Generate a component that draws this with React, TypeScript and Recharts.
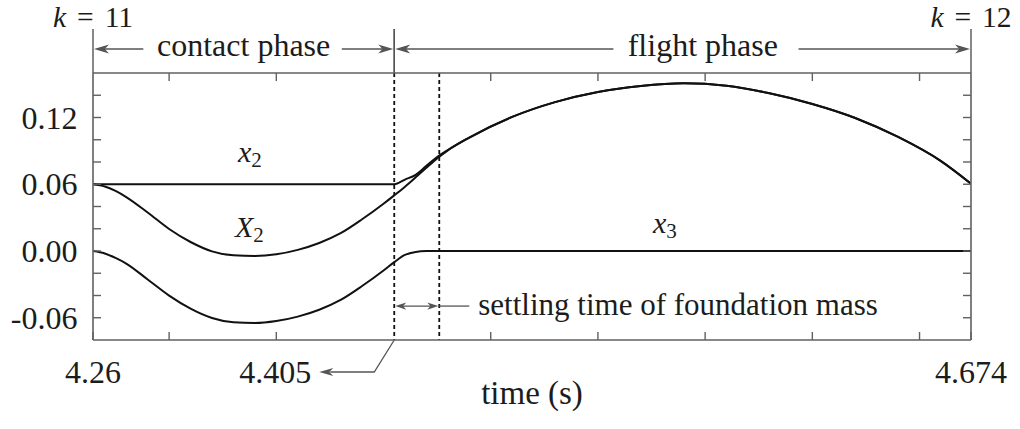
import React from 'react';
import {
  LineChart,
  Line,
  XAxis,
  YAxis,
  ReferenceLine,
  ReferenceArea,
  ReferenceDot,
} from 'recharts';

// Sample times (s) over one hop: contact phase, then flight phase
const time = [
  4.2645, 4.27, 4.275, 4.28, 4.29, 4.3, 4.31, 4.32, 4.33, 4.34, 4.35, 4.36, 4.37,
  4.38, 4.39, 4.4, 4.405, 4.41, 4.415, 4.42, 4.425, 4.43, 4.44, 4.46, 4.48, 4.5,
  4.52, 4.54, 4.56, 4.58, 4.6, 4.62, 4.64, 4.66, 4.674,
];

// Upper mass position x2
const x2 = [
  0.06, 0.06, 0.06, 0.06, 0.06, 0.06, 0.06, 0.06, 0.06, 0.06, 0.06, 0.06, 0.06,
  0.06, 0.06, 0.06, 0.06, 0.0642, 0.0685, 0.0765, 0.0845, 0.0908, 0.102, 0.1205,
  0.1338, 0.1429, 0.1483, 0.1507, 0.1485, 0.1418, 0.1322, 0.1196, 0.1025, 0.0808,
  0.0605,
];

// Spring reference position X2
const X2 = [
  0.06, 0.058, 0.054, 0.0485, 0.0346, 0.0198, 0.0081, -0.0003, -0.0039, -0.0045,
  -0.003, 0.001, 0.0072, 0.016, 0.0285, 0.0425, 0.05, 0.0578, 0.0662, 0.0748,
  0.0832, 0.0905, 0.102, 0.1205, 0.1338, 0.1429, 0.1483, 0.1507, 0.1485, 0.1418,
  0.1322, 0.1196, 0.1025, 0.0808, 0.0605,
];

// Foundation mass position x3
const x3 = [
  0.0, -0.0022, -0.0062, -0.0113, -0.0256, -0.0401, -0.0518, -0.0602, -0.0641,
  -0.0648, -0.063, -0.059, -0.0528, -0.044, -0.0315, -0.0175, -0.01, -0.0035,
  -0.0008, -0.0001, 0.0, 0.0, 0.0, 0.0, 0.0, 0.0, 0.0, 0.0, 0.0, 0.0, 0.0, 0.0,
  0.0, 0.0, 0.0,
];

// Event times
const hopStart = 4.2645; // k = 11
const liftOff = 4.405;
const settled = 4.426;
const hopEnd = 4.674; // k = 12

const xDomain = [hopStart, hopEnd];
const yDomain = [-0.08, 0.16];
const xTicks = [hopStart, 4.3, 4.35, 4.45, 4.5, 4.55, 4.6, 4.65, hopEnd];
const xTickLabels: [number, string][] = [
  [hopStart, '4.26'],
  [hopEnd, '4.674'],
];
const yTicks = [-0.06, -0.04, -0.02, 0, 0.02, 0.04, 0.06, 0.08, 0.1, 0.12, 0.14];
const yTickLabels = [-0.06, 0, 0.06, 0.12];

const data = time.map((t, i) => ({ t, x2: x2[i], X2: X2[i], x3: x3[i] }));

const SERIF = '"Liberation Serif", "DejaVu Serif", serif';
const FRAME = '#606060';
const INK = '#1c1c1c';
const ANNO = '#555555';
const TICK = 8;

const near = (a: number, b: number) => Math.abs(a - b) < 1e-6;

// Filled arrowhead with a notched back; dir = 1 points right, -1 points left
const arrowHead = (tx: number, ty: number, dir: number, len = 15, half = 4.5) => {
  const b = tx - dir * len;
  const n = tx - dir * len * 0.72;
  return `M${tx},${ty} L${b},${ty - half} L${n},${ty} L${b},${ty + half} Z`;
};

const BottomTick = (props: any) => {
  const { x, y, payload } = props;
  const lab = xTickLabels.find(([v]) => near(v, payload.value));
  return (
    <g>
      <line x1={x} y1={y} x2={x} y2={y - TICK} stroke={FRAME} strokeWidth={1.4} />
      {lab && (
        <text x={x} y={y + 43} textAnchor="middle" fontSize={32} fontFamily={SERIF} fill={INK}>
          {lab[1]}
        </text>
      )}
    </g>
  );
};

const TopTick = (props: any) => {
  const { x, y } = props;
  return <line x1={x} y1={y} x2={x} y2={y + TICK} stroke={FRAME} strokeWidth={1.4} />;
};

const LeftTick = (props: any) => {
  const { x, y, payload } = props;
  const v = payload.value as number;
  const labelled = yTickLabels.some((l) => near(l, v));
  return (
    <g>
      <line x1={x} y1={y} x2={x + TICK} y2={y} stroke={FRAME} strokeWidth={1.4} />
      {labelled && (
        <text
          x={x - 15.5}
          y={y}
          dy="0.35em"
          textAnchor="end"
          fontSize={32}
          fontFamily={SERIF}
          fill={INK}
        >
          {v.toFixed(2)}
        </text>
      )}
    </g>
  );
};

const RightTick = (props: any) => {
  const { x, y } = props;
  return <line x1={x} y1={y} x2={x - TICK} y2={y} stroke={FRAME} strokeWidth={1.4} />;
};

const StepTag = ({ x, y, k }: { x: number; y: number; k: string }) => (
  <text x={x} y={y} textAnchor="middle" fontSize={29.5} fontFamily={SERIF} fill={INK}>
    <tspan fontStyle="italic">k</tspan>
    <tspan dx={11}>=</tspan>
    <tspan dx={11}>{k}</tspan>
  </text>
);

// Phase bracket drawn above a reference area: |<-- label -->|
const PhaseBracket = (props: any) => {
  const { x, y, width, text, leftEnd, textMid, rightStart, leftTag, rightTag } = props;
  const ay = y - 24;
  const x0 = x;
  const x1 = x + width;
  return (
    <g>
      <line x1={x0} y1={y - 44} x2={x0} y2={y} stroke={ANNO} strokeWidth={1.4} />
      <line x1={x1} y1={y - 44} x2={x1} y2={y} stroke={ANNO} strokeWidth={1.4} />
      <line x1={x0 + 4} y1={ay} x2={x0 + width * leftEnd} y2={ay} stroke={ANNO} strokeWidth={1.4} />
      <path d={arrowHead(x0 + 1, ay, -1)} fill={ANNO} />
      <line x1={x0 + width * rightStart} y1={ay} x2={x1 - 4} y2={ay} stroke={ANNO} strokeWidth={1.4} />
      <path d={arrowHead(x1 - 1, ay, 1)} fill={ANNO} />
      <text
        x={x0 + width * textMid}
        y={ay + 7}
        textAnchor="middle"
        fontSize={32}
        fontFamily={SERIF}
        fill={INK}
      >
        {text}
      </text>
      {leftTag && <StepTag x={x0} y={y - 46.5} k={leftTag} />}
      {rightTag && <StepTag x={x1} y={y - 46.5} k={rightTag} />}
    </g>
  );
};

// Lift-off marker: dashed line plus the callout to its time label
const LiftOffLine = (props: any) => {
  const { x1, y1, y2 } = props;
  const top = Math.min(y1, y2);
  const bottom = Math.max(y1, y2);
  const hy = bottom + 32;
  return (
    <g>
      <line x1={x1} y1={top} x2={x1} y2={bottom} stroke="#111" strokeWidth={1.8} strokeDasharray="4 3" />
      <polyline
        points={`${x1},${bottom} ${x1 - 20},${hy} ${x1 - 64},${hy}`}
        fill="none"
        stroke={ANNO}
        strokeWidth={1.3}
      />
      <path d={arrowHead(x1 - 75, hy, -1, 14, 4)} fill={ANNO} />
      <text x={x1 - 83} y={hy} dy="0.35em" textAnchor="end" fontSize={32} fontFamily={SERIF} fill={INK}>
        {liftOff}
      </text>
    </g>
  );
};

const SettleLine = (props: any) => {
  const { x1, y1, y2 } = props;
  return (
    <line
      x1={x1}
      y1={Math.min(y1, y2)}
      x2={x1}
      y2={Math.max(y1, y2)}
      stroke="#111"
      strokeWidth={1.8}
      strokeDasharray="4 3"
    />
  );
};

// Double arrow spanning the settling interval, with its caption
const SettleSpan = (props: any) => {
  const { x1, y1, x2 } = props;
  return (
    <g>
      <line x1={x1 + 4} y1={y1} x2={x2 - 4} y2={y1} stroke={ANNO} strokeWidth={1.3} />
      <path d={arrowHead(x1 + 1, y1, -1, 11, 3.6)} fill={ANNO} />
      <path d={arrowHead(x2 - 1, y1, 1, 11, 3.6)} fill={ANNO} />
      <line x1={x2} y1={y1} x2={x2 + 30} y2={y1} stroke={ANNO} strokeWidth={1.3} />
      <text x={x2 + 39} y={y1 + 9} fontSize={31} fontFamily={SERIF} fill={INK}>
        settling time of foundation mass
      </text>
    </g>
  );
};

const SeriesTag = ({ cx, cy, base, sub }: any) => (
  <text x={cx} y={cy} fontSize={30} fontFamily={SERIF} fill={INK}>
    <tspan fontStyle="italic">{base}</tspan>
    <tspan fontSize={21} dy={5}>
      {sub}
    </tspan>
  </text>
);

export default function App() {
  return (
    <div style={{ position: 'absolute', left: 0, top: 0, background: '#fff' }}>
      <LineChart
        width={1020}
        height={429}
        data={data}
        margin={{ top: 72, right: 48, bottom: 88, left: 92 }}
      >
        <XAxis
          dataKey="t"
          type="number"
          domain={xDomain}
          allowDataOverflow
          ticks={xTicks}
          interval={0}
          height={1}
          tickSize={0}
          tickMargin={0}
          tickLine={false}
          axisLine={{ stroke: FRAME, strokeWidth: 1.6 }}
          tick={<BottomTick />}
        />
        <XAxis
          xAxisId="top"
          orientation="top"
          dataKey="t"
          type="number"
          domain={xDomain}
          allowDataOverflow
          ticks={xTicks.slice(1, -1)}
          interval={0}
          height={1}
          tickSize={0}
          tickMargin={0}
          tickLine={false}
          axisLine={{ stroke: FRAME, strokeWidth: 1.6 }}
          tick={<TopTick />}
        />
        <YAxis
          type="number"
          domain={yDomain}
          allowDataOverflow
          ticks={yTicks}
          interval={0}
          width={1}
          tickSize={0}
          tickMargin={0}
          tickLine={false}
          axisLine={{ stroke: FRAME, strokeWidth: 1.6 }}
          tick={<LeftTick />}
        />
        <YAxis
          yAxisId="right"
          orientation="right"
          type="number"
          domain={yDomain}
          allowDataOverflow
          ticks={yTicks}
          interval={0}
          width={1}
          tickSize={0}
          tickMargin={0}
          tickLine={false}
          axisLine={{ stroke: FRAME, strokeWidth: 1.6 }}
          tick={<RightTick />}
        />

        <ReferenceArea
          x1={hopStart}
          x2={liftOff}
          shape={(p: any) => (
            <PhaseBracket
              {...p}
              text="contact phase"
              leftEnd={0.167}
              textMid={0.5}
              rightStart={0.826}
              leftTag="11"
            />
          )}
        />
        <ReferenceArea
          x1={liftOff}
          x2={hopEnd}
          shape={(p: any) => (
            <PhaseBracket
              {...p}
              text="flight phase"
              leftEnd={0.38}
              textMid={0.535}
              rightStart={0.701}
              rightTag="12"
            />
          )}
        />

        <ReferenceLine x={liftOff} shape={(p: any) => <LiftOffLine {...p} />} />
        <ReferenceLine x={settled} shape={(p: any) => <SettleLine {...p} />} />
        <ReferenceLine
          segment={[
            { x: liftOff, y: -0.0495 },
            { x: settled, y: -0.0495 },
          ]}
          shape={(p: any) => <SettleSpan {...p} />}
        />

        <Line type="monotone" dataKey="x2" stroke="#111" strokeWidth={2} dot={false} isAnimationActive={false} />
        <Line type="monotone" dataKey="X2" stroke="#111" strokeWidth={2} dot={false} isAnimationActive={false} />
        <Line type="monotone" dataKey="x3" stroke="#111" strokeWidth={2} dot={false} isAnimationActive={false} />

        <ReferenceDot x={4.3321} y={0.0803} r={0} shape={(p: any) => <SeriesTag {...p} base="x" sub="2" />} />
        <ReferenceDot x={4.3307} y={0.0129} r={0} shape={(p: any) => <SeriesTag {...p} base="X" sub="2" />} />
        <ReferenceDot x={4.5257} y={0.0159} r={0} shape={(p: any) => <SeriesTag {...p} base="x" sub="3" />} />

        <text x={532} y={404} textAnchor="middle" fontSize={33} fontFamily={SERIF} fill={INK}>
          time (s)
        </text>
      </LineChart>
    </div>
  );
}
